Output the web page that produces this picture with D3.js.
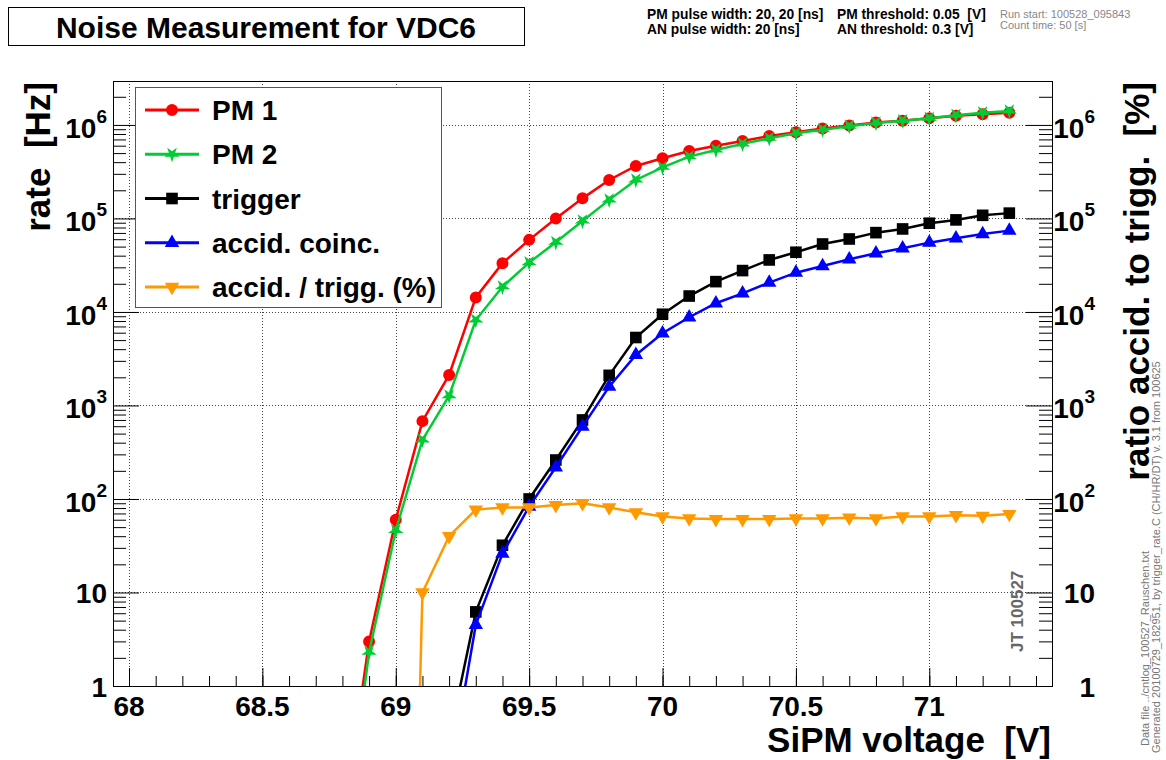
<!DOCTYPE html>
<html>
<head>
<meta charset="utf-8">
<script src="https://cdn.jsdelivr.net/npm/d3@7"></script>
<style>
  body { margin: 0; background: #fff; }
  text { font-family: "Liberation Sans", Arial, Helvetica, sans-serif; white-space: pre; }
</style>
</head>
<body>
<script>
// measured points, SiPM voltage in V
var volts = [68.8, 68.9, 69.0, 69.1, 69.2, 69.3, 69.4, 69.5, 69.6, 69.7, 69.8, 69.9, 70.0,
             70.1, 70.2, 70.3, 70.4, 70.5, 70.6, 70.7, 70.8, 70.9, 71.0, 71.1, 71.2, 71.3];
// rates in Hz (null = no point)
var pm1 = [0.03, 3.0, 60, 680, 2120, 14300, 33200, 59000, 100000, 164000, 258000, 364000, 440000,
           527000, 598000, 674000, 763000, 834000, 914000, 984000, 1060000, 1110000, 1180000, 1250000, 1300000, 1350000];
var pm2 = [0.015, 2.3, 46, 428, 1270, 8200, 18600, 33700, 55600, 94000, 158000, 258000, 352000,
           458000, 540000, 627000, 720000, 815000, 890000, 970000, 1050000, 1110000, 1180000, 1270000, 1350000, 1410000];
var trigger = [null, null, null, null, 0.27, 6.2, 32, 100, 261, 700, 2100, 5330, 9450,
               14800, 21100, 27700, 36000, 43500, 53300, 60300, 70500, 77200, 88900, 96500, 108000, 114000];
var accid = [null, null, null, null, 0.1, 4.5, 26, 83, 218, 594, 1590, 3470, 5920,
             8780, 12400, 15800, 20600, 26300, 31000, 36600, 42400, 48000, 55100, 61400, 68200, 74100];
// accid. / trigg. in %
var ratio = [null, null, 1e-10, 10, 40, 77, 81, 81, 86, 90, 81, 72, 65,
             62, 61, 61, 61, 62, 62, 63, 62, 65, 65, 67, 66, 69];

var seriesNames = ["PM 1", "PM 2", "trigger", "accid. coinc.", "accid. / trigg. (%)"];
var xMajor = [68, 68.5, 69, 69.5, 70, 70.5, 71];
var xMinor = d3.range(68, 71.45, 0.1).map(function(v) { return Math.round(v * 10) / 10; });
var yMajor = [1, 10, 100, 1000, 10000, 100000, 1000000];
var yLabels = ["1", "10", "10|2", "10|3", "10|4", "10|5", "10|6"];

var W = 1166, H = 760;
var pLeft = 113, pRight = 1052, pTop = 81, pBottom = 686;

var x = d3.scaleLinear().domain([67.94, 71.46]).range([pLeft, pRight]);
var y = d3.scaleLog().domain([1, 2.95e6]).range([pBottom, pTop]);

var svg = d3.select("body").append("svg")
            .attr("width", W)
            .attr("height", H);

svg.append("defs").append("clipPath").attr("id", "plotclip")
   .append("rect").attr("x", pLeft).attr("y", pTop)
   .attr("width", pRight - pLeft).attr("height", pBottom - pTop);

// title box
svg.append("rect").attr("x", 8.5).attr("y", 7.5).attr("width", 516).attr("height", 38)
   .attr("fill", "#fff").attr("stroke", "#000");
svg.append("text").attr("x", 266).attr("y", 38).attr("text-anchor", "middle")
   .attr("font-size", 30).attr("font-weight", "bold").text("Noise Measurement for VDC6");

// info text top right
var info = svg.append("g").attr("font-weight", "bold").attr("font-size", 13.8);
info.append("text").attr("x", 647).attr("y", 19).text("PM pulse width: 20, 20 [ns]");
info.append("text").attr("x", 647).attr("y", 34).text("AN pulse width: 20 [ns]");
info.append("text").attr("x", 837).attr("y", 19).text("PM threshold: 0.05  [V]");
info.append("text").attr("x", 837).attr("y", 34).text("AN threshold: 0.3 [V]");
var info2 = svg.append("g").attr("font-size", 11).attr("fill", "#888");
info2.append("text").attr("x", 1000).attr("y", 18).text("Run start: 100528_095843");
info2.append("text").attr("x", 1000).attr("y", 29).text("Count time: 50 [s]");

// grid
var grid = svg.append("g").attr("stroke", "#444").attr("stroke-dasharray", "1,2").attr("stroke-width", 1);
grid.selectAll("line.gx").data(xMajor).enter().append("line")
    .attr("x1", function(d) { return Math.round(x(d)) + 0.5; })
    .attr("x2", function(d) { return Math.round(x(d)) + 0.5; })
    .attr("y1", pTop).attr("y2", pBottom);
grid.selectAll("line.gy").data(yMajor.slice(1)).enter().append("line")
    .attr("y1", function(d) { return Math.round(y(d)) + 0.5; })
    .attr("y2", function(d) { return Math.round(y(d)) + 0.5; })
    .attr("x1", pLeft).attr("x2", pRight);

// axes ticks
function minorLogTicks() {
  var t = [];
  for (var e = 0; e < 7; e++) {
    for (var m = 2; m <= 9; m++) {
      var v = m * Math.pow(10, e);
      if (v < y.domain()[1]) t.push(v);
    }
  }
  return t;
}

function drawAxis(axis, tx, ty) {
  var g = svg.append("g").attr("transform", "translate(" + tx + "," + ty + ")").call(axis);
  g.select(".domain").remove();
  g.selectAll("line").attr("stroke", "#000");
  return g;
}

drawAxis(d3.axisBottom(x).tickValues(xMajor).tickSize(-18).tickFormat(""), 0, pBottom);
drawAxis(d3.axisBottom(x).tickValues(xMinor).tickSize(-10).tickFormat(""), 0, pBottom);
drawAxis(d3.axisLeft(y).tickValues(yMajor).tickSize(-26).tickFormat(""), pLeft, 0);
drawAxis(d3.axisLeft(y).tickValues(minorLogTicks()).tickSize(-13).tickFormat(""), pLeft, 0);
drawAxis(d3.axisRight(y).tickValues(yMajor).tickSize(-26).tickFormat(""), pRight, 0);
drawAxis(d3.axisRight(y).tickValues(minorLogTicks()).tickSize(-13).tickFormat(""), pRight, 0);

// frame
svg.append("rect").attr("x", pLeft + 0.5).attr("y", pTop + 0.5)
   .attr("width", pRight - pLeft).attr("height", pBottom - pTop)
   .attr("fill", "none").attr("stroke", "#000");

// tick labels
svg.append("g").selectAll("text").data(xMajor).enter().append("text")
   .attr("x", function(d) { return x(d); })
   .attr("y", 716)
   .attr("text-anchor", "middle")
   .attr("font-size", 28).attr("font-weight", "bold")
   .text(function(d) { return d3.format("")(d); });

function yTickLabels(xpos) {
  var g = svg.append("g").attr("font-size", 28).attr("font-weight", "bold");
  g.selectAll("text").data(yMajor).enter().append("text")
   .attr("x", xpos)
   .attr("y", function(d, i) { return y(d) + (i < 2 ? 11 : 13); })
   .attr("text-anchor", "end")
   .each(function(d, i) {
     var parts = yLabels[i].split("|");
     var t = d3.select(this);
     t.append("tspan").text(parts[0]);
     if (parts.length > 1) {
       t.append("tspan").attr("font-size", 19).attr("dy", -15).text(parts[1]);
     }
   });
}
yTickLabels(107);
yTickLabels(1095);

// axis titles
svg.append("text").attr("x", 1051).attr("y", 752).attr("text-anchor", "end")
   .attr("font-size", 35).attr("font-weight", "bold").text("SiPM voltage  [V]");
svg.append("text").attr("transform", "translate(50,82) rotate(-90)").attr("text-anchor", "end")
   .attr("font-size", 35).attr("font-weight", "bold").text("rate  [Hz]");
svg.append("text").attr("transform", "translate(1149,82) rotate(-90)").attr("text-anchor", "end")
   .attr("font-size", 35).attr("font-weight", "bold").text("ratio accid. to trigg.  [%]");

// side notes
svg.append("text").attr("transform", "translate(1149,746) rotate(-90)")
   .attr("font-size", 11).attr("fill", "#777").text("Data file ../cntlog_100527_Rauschen.txt");
svg.append("text").attr("transform", "translate(1160,753) rotate(-90)")
   .attr("font-size", 11).attr("fill", "#777")
   .text("Generated 20100729_182951, by trigger_rate.C (CH/HR/DT) v. 3.1 from 100625");
svg.append("text").attr("transform", "translate(1023,652) rotate(-90)")
   .attr("font-size", 17).attr("font-weight", "bold").attr("fill", "#666").text("JT 100527");

// data series
var series = [
  { name: seriesNames[0], vals: pm1, color: "#ff0000", sym: d3.symbolCircle, size: 113, rot: 0 },
  { name: seriesNames[1], vals: pm2, color: "#00cc33", sym: d3.symbolStar, size: 75, rot: 180 },
  { name: seriesNames[2], vals: trigger, color: "#000000", sym: d3.symbolSquare, size: 135, rot: 0 },
  { name: seriesNames[3], vals: accid, color: "#0000ff", sym: d3.symbolTriangle, size: 90, rot: 0 },
  { name: seriesNames[4], vals: ratio, color: "#ff9900", sym: d3.symbolTriangle, size: 90, rot: 180 }
];

var line = d3.line()
  .defined(function(d) { return d.v != null; })
  .x(function(d) { return x(d.x); })
  .y(function(d) { return y(d.v); });

var plot = svg.append("g").attr("clip-path", "url(#plotclip)");

series.forEach(function(s) {
  var pts = volts.map(function(v, i) { return { x: v, v: s.vals[i] }; });
  plot.append("path").datum(pts)
      .attr("d", line)
      .attr("fill", "none")
      .attr("stroke", s.color)
      .attr("stroke-width", 2.5);
  plot.selectAll(null).data(pts.filter(function(d) { return d.v != null && d.v >= 1; }))
      .enter().append("path")
      .attr("d", d3.symbol().type(s.sym).size(s.size))
      .attr("transform", function(d) { return "translate(" + x(d.x) + "," + y(d.v) + ") rotate(" + s.rot + ")"; })
      .attr("fill", s.color);
});

// legend
var leg = svg.append("g");
leg.append("rect").attr("x", 135.5).attr("y", 87.5).attr("width", 306).attr("height", 220)
   .attr("fill", "#fff").attr("stroke", "#555");
var rowY = d3.scalePoint().domain(seriesNames).range([110, 287]);
series.forEach(function(s) {
  var ry = rowY(s.name);
  leg.append("line").attr("x1", 145).attr("x2", 199).attr("y1", ry).attr("y2", ry)
     .attr("stroke", s.color).attr("stroke-width", 3);
  leg.append("path").attr("d", d3.symbol().type(s.sym).size(s.size))
     .attr("transform", "translate(172," + ry + ") rotate(" + s.rot + ")")
     .attr("fill", s.color);
  leg.append("text").attr("x", 212).attr("y", ry + 10)
     .attr("font-size", 28).attr("font-weight", "bold").text(s.name);
});
</script>
</body>
</html>
